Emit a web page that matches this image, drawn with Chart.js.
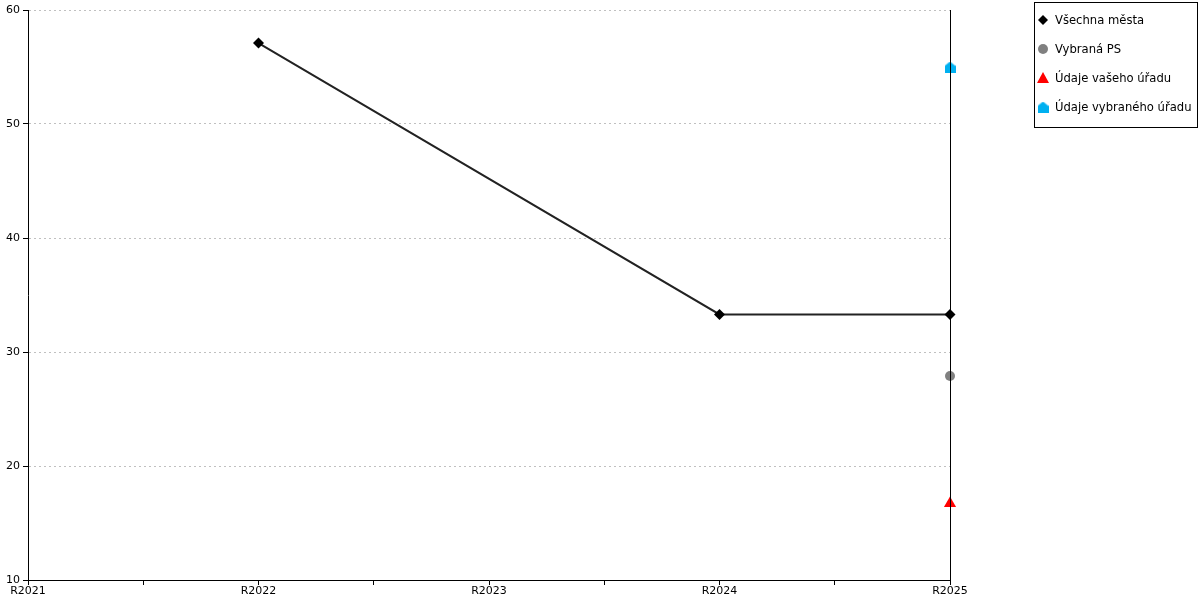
<!DOCTYPE html>
<html>
<head>
<meta charset="utf-8">
<script src="https://cdn.jsdelivr.net/npm/chart.js@4.4.1/dist/chart.umd.min.js"></script>
<style>
  html, body { margin: 0; padding: 0; background: #fff; }
  #wrap { width: 1200px; height: 600px; }
</style>
</head>
<body>
<div id="wrap"><canvas id="chart"></canvas></div>
<script>
const categories = ['R2021', 'R2022', 'R2023', 'R2024', 'R2025'];
const allCities = [null, 57.1, null, 33.3, 33.3];
const selectedPS = [null, null, null, null, 27.9];
const yourOffice = [null, null, null, null, 16.7];
const selectedOffice = [null, null, null, null, 55.0];
const yTicks = [10, 20, 30, 40, 50, 60];

const toPoints = arr => arr.map((v, i) => ({ x: i, y: v })).filter(p => p.y !== null);

// blue "house" marker
function houseIcon(size, color) {
    const c = document.createElement('canvas');
    c.width = size; c.height = size;
    const g = c.getContext('2d');
    g.fillStyle = color;
    g.beginPath();
    g.moveTo(size / 2, 0);
    g.lineTo(size, size * 0.4);
    g.lineTo(size, size);
    g.lineTo(0, size);
    g.lineTo(0, size * 0.4);
    g.closePath();
    g.fill();
    return c;
}
const house = houseIcon(11, '#00b0f0');

const ctx = document.querySelector('#chart').getContext('2d');

// vertical line at the last category, drawn above the markers
const lastLine = {
    id: 'lastLine',
    afterDatasetsDraw(chart) {
        const x = chart.scales.x.getPixelForValue(categories.length - 1);
        const c = chart.ctx;
        c.save();
        c.strokeStyle = '#000';
        c.lineWidth = 1;
        c.beginPath();
        c.moveTo(Math.round(x) + 0.5, chart.chartArea.top);
        c.lineTo(Math.round(x) + 0.5, chart.chartArea.bottom);
        c.stroke();
        c.restore();
    }
};

// boxed legend on the right
const boxLegend = {
    id: 'boxLegend',
    afterDraw(chart) {
        const c = chart.ctx;
        const left = 1034, top = 2, w = 163, h = 125;
        c.save();
        c.strokeStyle = '#000';
        c.lineWidth = 1;
        c.strokeRect(left + 0.5, top + 0.5, w, h);
        c.font = '11.6px "DejaVu Sans"';
        c.textBaseline = 'middle';
        chart.data.datasets.forEach((ds, i) => {
            const cy = top + 18 + i * 29;
            const cx = left + 9;
            c.fillStyle = ds.backgroundColor;
            c.beginPath();
            if (ds.pointStyle === 'rectRot') {
                c.moveTo(cx, cy - 5); c.lineTo(cx + 5, cy); c.lineTo(cx, cy + 5); c.lineTo(cx - 5, cy);
                c.closePath(); c.fill();
            } else if (ds.pointStyle === 'circle') {
                c.arc(cx, cy, 5, 0, Math.PI * 2); c.fill();
            } else if (ds.pointStyle === 'triangle') {
                c.moveTo(cx, cy - 6); c.lineTo(cx + 6, cy + 5); c.lineTo(cx - 6, cy + 5);
                c.closePath(); c.fill();
            } else {
                c.drawImage(house, cx - 5.5, cy - 5.5);
            }
            c.fillStyle = '#000';
            c.fillText(ds.label, left + 21, cy + 1);
        });
        c.restore();
    }
};

new Chart(ctx, {
    type: 'line',
    data: {
        datasets: [
            {
                label: 'Všechna města',
                data: toPoints(allCities),
                borderColor: '#222',
                backgroundColor: '#000',
                borderWidth: 2,
                pointStyle: 'rectRot',
                pointRadius: 5.5,
                pointBorderWidth: 0,
                spanGaps: true,
                clip: false
            },
            {
                label: 'Vybraná PS',
                data: toPoints(selectedPS),
                borderColor: '#808080',
                backgroundColor: '#808080',
                showLine: false,
                pointStyle: 'circle',
                pointRadius: 5,
                pointBorderWidth: 0,
                clip: false
            },
            {
                label: 'Údaje vašeho úřadu',
                data: toPoints(yourOffice),
                borderColor: '#ff0000',
                backgroundColor: '#ff0000',
                showLine: false,
                pointStyle: 'triangle',
                pointRadius: 7,
                pointBorderWidth: 0,
                clip: false
            },
            {
                label: 'Údaje vybraného úřadu',
                data: toPoints(selectedOffice),
                borderColor: '#00b0f0',
                backgroundColor: '#00b0f0',
                showLine: false,
                pointStyle: house,
                clip: false
            }
        ]
    },
    options: {
        responsive: true,
        maintainAspectRatio: false,
        animation: false,
        layout: { padding: { top: 10, right: 250, left: 0, bottom: 0 } },
        plugins: {
            legend: { display: false },
            tooltip: { enabled: false }
        },
        scales: {
            x: {
                type: 'linear',
                min: 0,
                max: categories.length - 1,
                afterBuildTicks(scale) {
                    const t = [];
                    for (let v = 0; v <= categories.length - 1; v += 0.5) t.push({ value: v });
                    scale.ticks = t;
                },
                afterFit(scale) { scale.height = 20; },
                ticks: {
                    autoSkip: false,
                    maxRotation: 0,
                    padding: 0,
                    color: '#000',
                    font: { family: 'DejaVu Sans', size: 11 },
                    callback: v => Number.isInteger(v) ? categories[v] : ''
                },
                grid: {
                    drawOnChartArea: false,
                    tickLength: 5,
                    tickColor: '#000'
                },
                border: { color: '#000', width: 1 }
            },
            y: {
                min: yTicks[0],
                max: yTicks[yTicks.length - 1],
                afterBuildTicks(scale) { scale.ticks = yTicks.map(v => ({ value: v })); },
                afterFit(scale) { scale.width = 28; },
                ticks: {
                    padding: 3,
                    color: '#000',
                    font: { family: 'DejaVu Sans', size: 11 }
                },
                grid: {
                    color: '#c0c0c0',
                    tickColor: '#000',
                    tickLength: 5,
                    drawTicks: true
                },
                border: { color: '#000', width: 1, dash: [2, 3] }
            }
        }
    },
    plugins: [lastLine, boxLegend]
});
</script>
</body>
</html>
